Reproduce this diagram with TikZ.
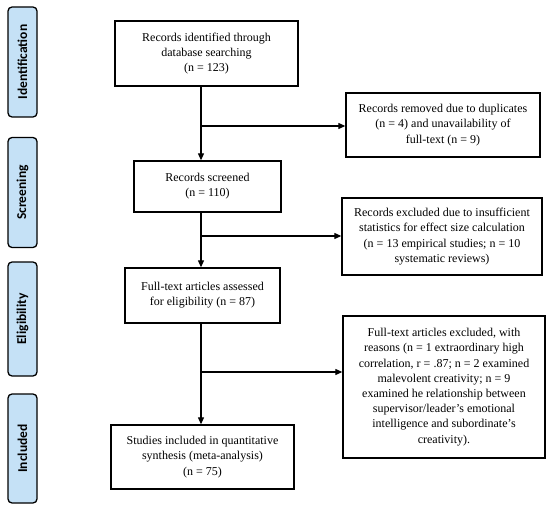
\documentclass[tikz,border=0pt]{standalone}
\usepackage{fontspec}
\setmainfont{Liberation Serif}
\newfontfamily\phasefont{Carlito}
\usetikzlibrary{arrows.meta}
\definecolor{phaseblue}{RGB}{197,225,246}
\begin{document}
\begin{tikzpicture}[x=1pt,y=-1pt,
  every node/.style={inner sep=0pt, font=\fontsize{12}{15.2}\selectfont},
  box/.style={draw=black, line width=1.3pt, fill=white, align=center},
  phase/.style={draw=black, line width=1.3pt, fill=phaseblue, rounded corners=4pt,
     minimum width=29pt, minimum height=110pt},
  phasetext/.style={rotate=90, font=\phasefont\bfseries\fontsize{13.5}{15}\selectfont},
  arr/.style={line width=1.1pt, -{Triangle[length=7pt,width=6pt]}},
  ln/.style={line width=1.1pt}]
\useasboundingbox (0,0) rectangle (550,511);
% phase labels
\node[phase] (p1) at (22.5,62) {};
\node[phasetext] (p1t) at (p1) {Identification};
\node[phase] (p2) at (22.5,192.5) {};
\node[phasetext] (p2t) at (p2) {Screening};
\node[phase, minimum height=114pt] (p3) at (22.5,319) {};
\node[phasetext] (p3t) at (p3) {Eligibility};
\node[phase, minimum height=109pt] (p4) at (22.5,448.5) {};
\node[phasetext] (p4t) at (p4) {Included};
% main boxes
\node[box, minimum width=183pt, minimum height=65pt] (b1) at (206.5,53.5)
  {Records identified through\\database searching\\(n = 123)};
\node[box, minimum width=147pt, minimum height=51pt] (b2) at (207.5,186.5)
  {Records screened\\(n = 110)};
\node[box, minimum width=155pt, minimum height=55pt] (b3) at (202.5,295.5)
  {Full-text articles assessed\\for eligibility (n = 87)};
\node[box, minimum width=183pt, minimum height=64pt] (b4) at (202.5,457)
  {Studies included in quantitative\\synthesis (meta-analysis)\\(n = 75)};
% side boxes
\node[box, minimum width=194pt, minimum height=64pt] (r1) at (443,125)
  {Records removed due to duplicates\\(n = 4) and unavailability of\\full-text (n = 9)};
\node[box, minimum width=200pt, minimum height=77pt] (r2) at (442,236.5)
  {Records excluded due to insufficient\\statistics for effect size calculation\\(n = 13 empirical studies; n = 10\\systematic reviews)};
\node[box, minimum width=202pt, minimum height=142pt] (r3) at (444,387)
  {Full-text articles excluded, with\\reasons (n = 1 extraordinary high\\correlation, r = .87; n = 2 examined\\malevolent creativity; n = 9\\examined he relationship between\\supervisor/leader's emotional\\intelligence and subordinate's\\creativity).};
% spine coordinates
\coordinate (s1) at (201,126);
\coordinate (s2) at (201,236);
\coordinate (s3) at (201,372);
% connectors
\draw[arr] (b1.south -| s1) -- (b2.north -| s1);
\draw[arr] (s1) -- (s1 -| r1.west);
\draw[arr] (b2.south -| s2) -- (b3.north -| s2);
\draw[arr] (s2) -- (s2 -| r2.west);
\draw[arr] (b3.south -| s3) -- (b4.north -| s3);
\draw[arr] (s3) -- (s3 -| r3.west);
\end{tikzpicture}
\end{document}
